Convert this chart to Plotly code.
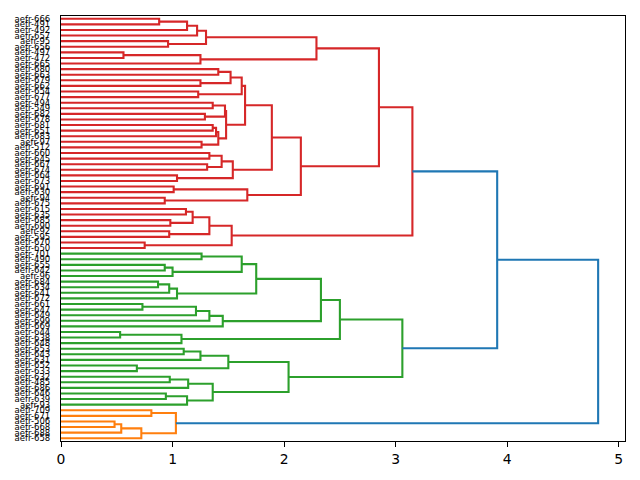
import plotly.graph_objects as go

# Leaf labels, top to bottom
leaf_labels = [
    "aefr-666", "aefr-491", "aefr-492", "aefr-657", "aefr-95", "aefr-656", "aefr-497", "aefr-472",
    "aefr-665", "aefr-680", "aefr-663", "aefr-679", "aefr-662", "aefr-654", "aefr-677", "aefr-494",
    "aefr-549", "aefr-682", "aefr-678", "aefr-681", "aefr-651", "aefr-683", "aefr-97", "aefr-512",
    "aefr-660", "aefr-645", "aefr-667", "aefr-674", "aefr-664", "aefr-673", "aefr-691", "aefr-630",
    "aefr-94", "aefr-675", "aefr-615", "aefr-635", "aefr-685", "aefr-690", "aefr-92", "aefr-595",
    "aefr-670", "aefr-650", "aefr-701", "aefr-490", "aefr-655", "aefr-642", "aefr-96", "aefr-684",
    "aefr-634", "aefr-641", "aefr-672", "aefr-661", "aefr-647", "aefr-649", "aefr-699", "aefr-669",
    "aefr-644", "aefr-638", "aefr-648", "aefr-653", "aefr-643", "aefr-631", "aefr-652", "aefr-633",
    "aefr-632", "aefr-485", "aefr-686", "aefr-646", "aefr-639", "aefr-93", "aefr-709", "aefr-671",
    "aefr-506", "aefr-668", "aefr-688", "aefr-658",
]
N = len(leaf_labels)

# Linkage: node ids 0..N-1 are leaves, merge k creates node N+k
merge_left = [
    0, 76, 77, 4, 78, 6, 81, 80,
    9, 11, 84, 13, 86, 15, 17, 89, 19, 92, 22, 93, 91, 88, 24, 26, 98, 28, 100, 97, 30, 32, 104, 103, 83,
    34, 36, 109, 38, 111, 40, 113, 108,
    42, 44, 118, 117, 47, 121, 122, 120, 51, 125, 126, 127, 124, 56, 130, 129,
    59, 133, 62, 134, 64, 137, 67, 139, 138, 136, 132,
    70, 72, 145, 146, 144,
    116, 149,
]
merge_right = [
    1, 2, 3, 5, 79, 7, 8, 82,
    10, 12, 85, 14, 87, 16, 18, 90, 20, 21, 23, 94, 95, 96, 25, 27, 99, 29, 101, 102, 31, 33, 105, 106, 107,
    35, 37, 110, 39, 112, 41, 114, 115,
    43, 45, 46, 119, 48, 49, 50, 123, 52, 53, 54, 55, 128, 57, 58, 131,
    60, 61, 63, 135, 65, 66, 68, 69, 140, 141, 142,
    71, 73, 74, 75, 147,
    143, 148,
]
merge_height = [
    0.88, 1.13, 1.22, 0.96, 1.30, 0.56, 1.25, 2.29,
    1.41, 1.25, 1.52, 1.23, 1.62, 1.36, 1.29, 1.47, 1.36, 1.39, 1.26, 1.41, 1.48, 1.65, 1.33, 1.31, 1.44,
    1.04, 1.54, 1.89, 1.01, 0.93, 1.67, 2.15, 2.85,
    1.12, 0.98, 1.18, 0.97, 1.33, 0.75, 1.53, 3.15,
    1.26, 0.93, 1.00, 1.62, 0.87, 0.97, 1.04, 1.75, 0.73, 1.21, 1.33, 1.45, 2.33, 0.53, 1.08, 2.50,
    1.10, 1.25, 0.68, 1.50, 0.975, 1.14, 0.94, 1.13, 1.36, 2.04, 3.06,
    0.81, 0.48, 0.54, 0.72, 1.03,
    3.91, 4.815,
]

palette = ["#ff7f0e", "#2ca02c", "#d62728"]  # cluster colours (matplotlib C1, C2, C3)
above_color = "#1f77b4"                      # links above threshold (C0)

# ---- layout of nodes
node_y = {i: float(i) for i in range(N)}
node_h = {i: 0.0 for i in range(N)}
children = {}
for k, (a, b, h) in enumerate(zip(merge_left, merge_right, merge_height)):
    nid = N + k
    node_y[nid] = (node_y[a] + node_y[b]) / 2
    node_h[nid] = h
    children[nid] = (a, b)

threshold = 0.7 * max(merge_height)
root = N + len(merge_height) - 1

# find maximal subtrees below threshold
groups = []
def find(n):
    if n < N:
        return
    if node_h[n] < threshold:
        groups.append(n)
        return
    for c in children[n]:
        find(c)
find(root)
groups.sort(key=lambda n: -node_y[n])  # from the bottom up
node_color = {}
def paint(n, col):
    if n < N:
        return
    node_color[n] = col
    for c in children[n]:
        paint(c, col)
for gi, g in enumerate(groups):
    paint(g, palette[gi % len(palette)])

segs = {}
for nid, (a, b) in children.items():
    col = node_color.get(nid, above_color)
    xs, ys = segs.setdefault(col, ([], []))
    xs += [node_h[a], node_h[nid], node_h[nid], node_h[b], None]
    ys += [node_y[a], node_y[a], node_y[b], node_y[b], None]

fig = go.Figure()
for col, (xs, ys) in segs.items():
    fig.add_trace(go.Scatter(x=xs, y=ys, mode="lines",
                             line=dict(color=col, width=2.1),
                             hoverinfo="skip", showlegend=False, cliponaxis=False))

xmax = max(merge_height) * 1.05
fig.update_layout(
    width=640, height=480,
    margin=dict(l=61, r=15, t=16, b=39, autoexpand=False),
    plot_bgcolor="white", paper_bgcolor="white",
    font=dict(family="DejaVu Sans", color="black"),
    showlegend=False,
)
fig.update_xaxes(
    range=[0, xmax], tickmode="array", tickvals=[0, 1, 2, 3, 4, 5],
    ticks="outside", ticklen=5, tickwidth=1.1, tickcolor="black",
    tickfont=dict(size=13.9, family="DejaVu Sans"),
    showline=True, linecolor="black", linewidth=1.1, mirror=True,
    showgrid=False, zeroline=False, automargin=False,
)
fig.update_yaxes(
    range=[N - 0.5, -0.5], tickmode="array", tickvals=list(range(N)), ticktext=leaf_labels,
    ticks="outside", ticklen=8, tickcolor="rgba(0,0,0,0)",
    tickfont=dict(size=8.5, family="DejaVu Sans"),
    showline=True, linecolor="black", linewidth=1.1, mirror=True,
    showgrid=False, zeroline=False, automargin=False,
)
fig.write_html("out.html", config={"displayModeBar": False},
               post_script="document.body.style.margin='0px';document.body.style.overflow='hidden';")
